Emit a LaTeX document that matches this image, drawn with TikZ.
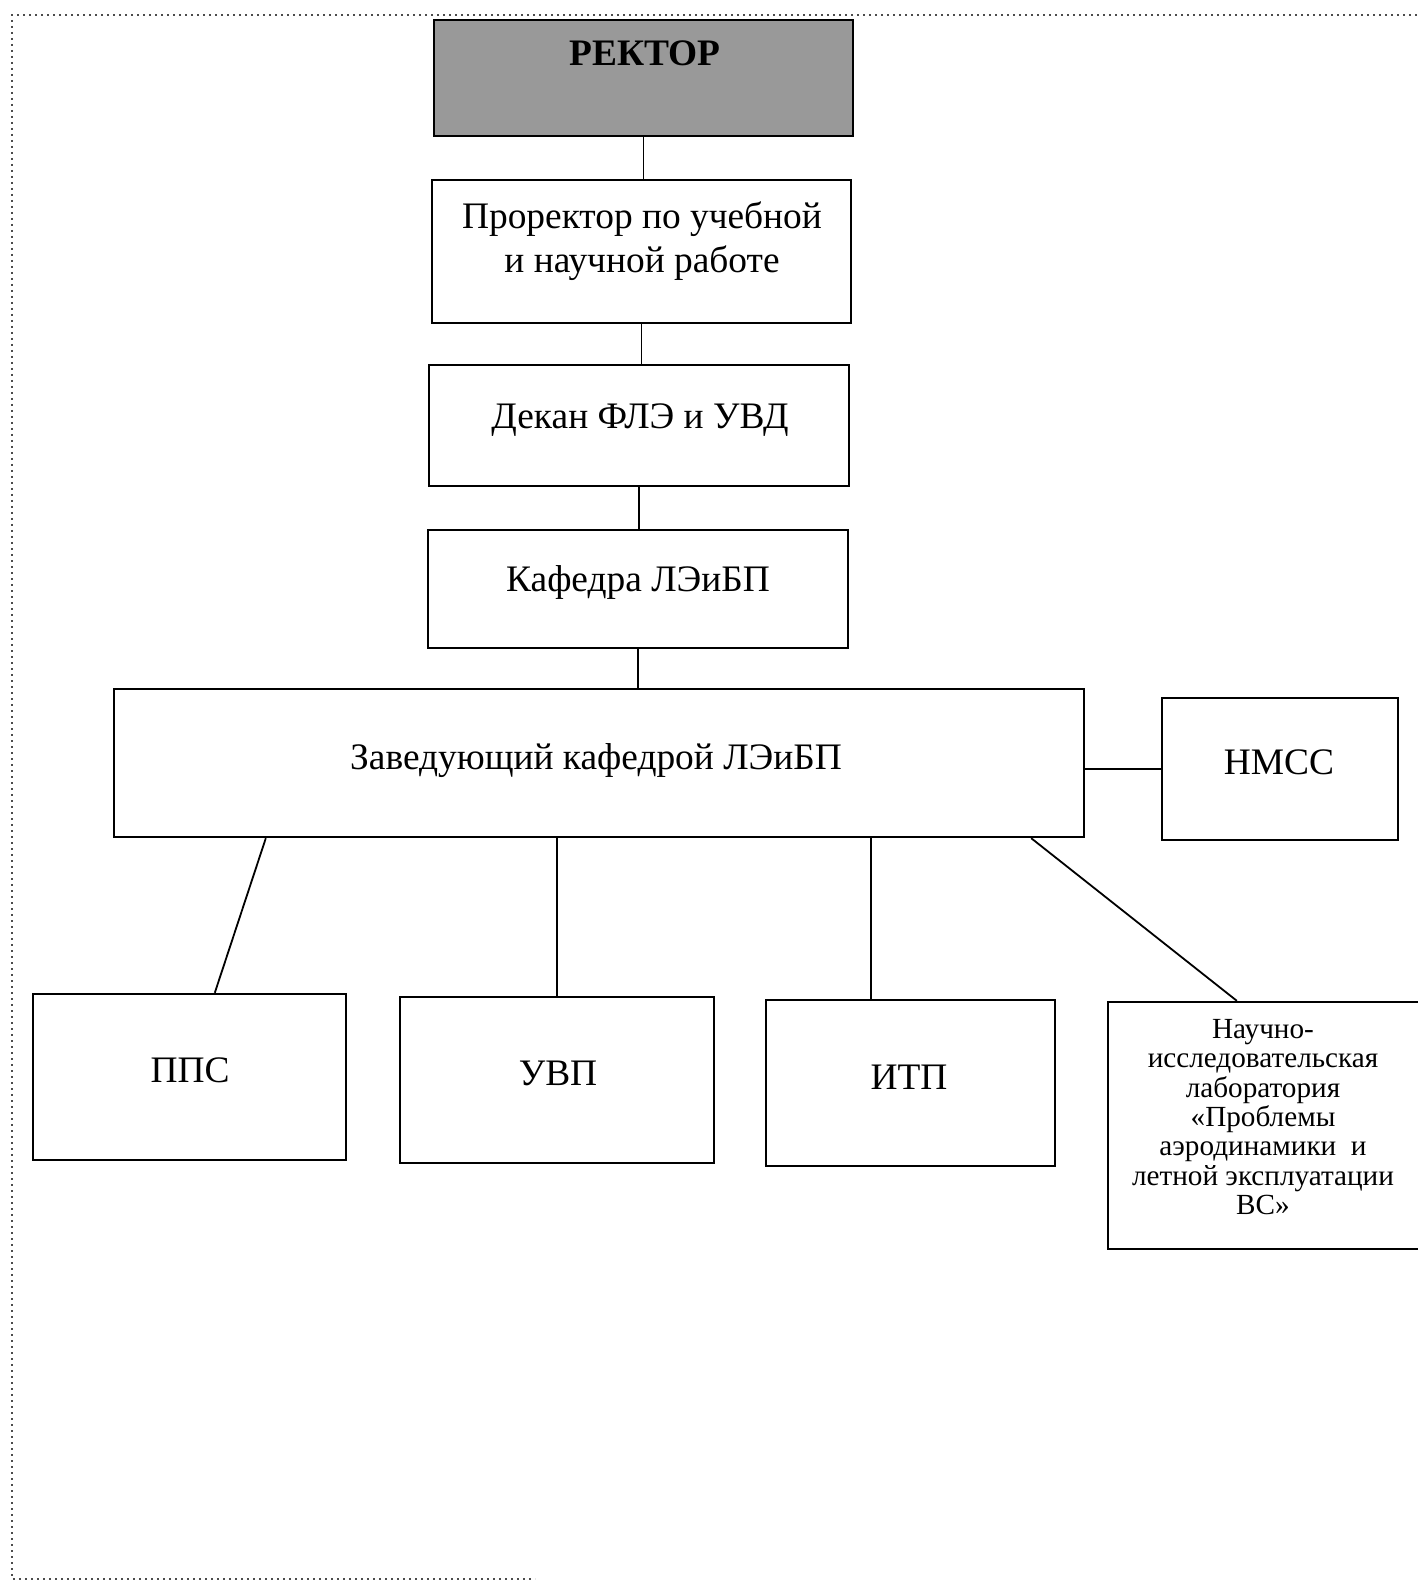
\documentclass[tikz,border=0pt]{standalone}
\usepackage{fontspec}
\setmainfont{Liberation Serif}
\usetikzlibrary{calc}
\begin{document}
\begin{tikzpicture}[x=0.5pt,y=-0.5pt,
  box/.style={draw, line width=1.2pt, inner sep=0pt, rectangle},
  txt/.style={font=\fontsize{18.7}{21.8}\selectfont, align=center, inner sep=0pt},
  smalltxt/.style={font=\fontsize{14.6}{14.7}\selectfont, align=center, inner sep=0pt},
  link/.style={line width=0.9pt},
  framedots/.style={dotted, line width=1pt, black!70}]

\fill[white] (0,0) rectangle (1417,1582);
\useasboundingbox (0,0) rectangle (1417,1582);

% dotted frame
\coordinate (ftr) at (1417,15);
\coordinate (ftl) at (12,15);
\coordinate (fbl) at (12,1579);
\coordinate (fbr) at (535,1579);
\draw[framedots] (ftr) -- (ftl) -- (fbl) -- (fbr);

% boxes
\node[box, minimum width=209.5pt, minimum height=58pt, fill=black!40] (rector) at (643.5,78) {};
\node[box, minimum width=209.5pt, minimum height=71.5pt] (pro) at (641.5,251.5) {};
\node[box, minimum width=210pt, minimum height=60.5pt] (dekan) at (639,425.5) {};
\node[box, minimum width=210pt, minimum height=59pt] (kaf) at (638,589) {};
\node[box, minimum width=485pt, minimum height=74pt] (zav) at (599,763) {};
\node[box, minimum width=118pt, minimum height=71pt] (nmss) at (1280,769) {};
\node[box, minimum width=156.5pt, minimum height=83pt] (pps) at (189.5,1077) {};
\node[box, minimum width=157pt, minimum height=83pt] (uvp) at (557,1080) {};
\node[box, minimum width=144.5pt, minimum height=83pt] (itp) at (910.5,1083) {};
\node[box, minimum width=157pt, minimum height=123.5pt] (lab) at (1265,1125.5) {};

% texts
\node[txt, font=\fontsize{18.7}{21.8}\selectfont\bfseries] (rectortxt) at (645,53) {РЕКТОР};
\node[txt] (protxt) at (642,241) {Проректор по учебной\\и научной работе};
\node[txt] (dekantxt) at (640,420) {Декан ФЛЭ и УВД};
\node[txt] (kaftxt) at (638,583) {Кафедра ЛЭиБП};
\node[txt] (zavtxt) at (596,761) {Заведующий кафедрой ЛЭиБП};
\node[txt] (nmsstxt) at (1279,762) {НМСС};
\node[txt] (ppstxt) at (190,1070) {ППС};
\node[txt] (uvptxt) at (558,1073) {УВП};
\node[txt] (itptxt) at (909,1077) {ИТП};
\node[smalltxt] (labtxt) at (1263,1117) {Научно-\\исследовательская\\лаборатория\\«Проблемы\\аэродинамики~ и\\летной эксплуатации\\ВС»};

% connector end points
\coordinate (zavpps) at ($(zav.south west)+(153,0)$);
\coordinate (ppstop) at ($(pps.north west)+(183,0)$);
\coordinate (itptop) at ($(itp.north west)+(106,0)$);
\coordinate (zavlab) at ($(zav.south east)+(-54,0)$);
\coordinate (labtop) at ($(lab.north west)+(130,0)$);

% connectors
\draw[link] (rector.south) -- (rector.south |- pro.north);
\draw[link] (pro.south) -- (pro.south |- dekan.north);
\draw[link] (dekan.south) -- (dekan.south |- kaf.north);
\draw[link] (kaf.south) -- (kaf.south |- zav.north);
\draw[link] (nmss.west) -- (nmss.west -| zav.east);
\draw[link] (zavpps) -- (ppstop);
\draw[link] (uvp.north) -- (uvp.north |- zav.south);
\draw[link] (itptop) -- (itptop |- zav.south);
\draw[link] (zavlab) -- (labtop);
\end{tikzpicture}
\end{document}
